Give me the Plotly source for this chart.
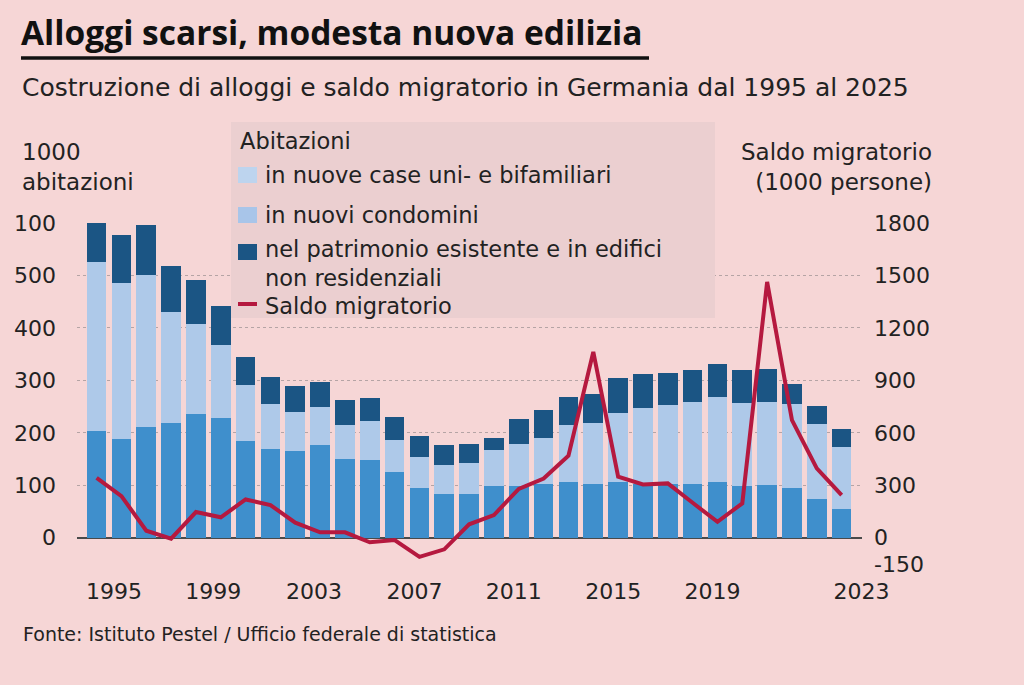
import plotly.graph_objects as go

# --- dati (1000 abitazioni / 1000 persone) ---
anni = list(range(1995, 2026))

case_uni_bifamiliari = [204, 189, 211, 219, 236, 229, 185, 170, 165, 177, 150, 149, 125, 95, 83,
                        84, 98, 99, 102, 106, 102, 107, 102, 102, 102, 107, 98, 100, 94, 73, 55]
condomini_top = [526, 485, 500, 430, 408, 368, 291, 255, 239, 249, 215, 222, 187, 154, 138,
                 142, 168, 178, 190, 215, 218, 237, 248, 253, 258, 268, 256, 259, 255, 217, 173]
totale = [603, 578, 596, 518, 491, 442, 345, 307, 290, 296, 262, 267, 230, 194, 177,
          179, 190, 227, 243, 269, 275, 305, 312, 314, 319, 332, 319, 321, 294, 251, 208]

saldo_migratorio = [343, 238, 40, -5, 147, 117, 219, 187, 86, 31, 31, -26, -13, -109, -66,
                    77, 130, 280, 339, 469, 1063, 349, 305, 311, 200, 91, 197, 1463, 673, 397, 244]

condomini = [c - b for c, b in zip(condomini_top, case_uni_bifamiliari)]
patrimonio_esistente = [t - c for t, c in zip(totale, condomini_top)]

tick_anni = ["1995", "1999", "2003", "2007", "2011", "2015", "2019", "2023"]
tick_pos = [1995.7, 1999.7, 2003.75, 2007.8, 2011.8, 2015.8, 2019.8, 2025.8]

sx_tick = [-50, 0, 100, 200, 300, 400, 500, 600]
sx_text = ["", "0", "100", "200", "300", "400", "500", "100"]
dx_tick = [-150, 0, 300, 600, 900, 1200, 1500, 1800]
dx_text = ["-150", "0", "300", "600", "900", "1200", "1500", "1800"]

# --- colori ---
BG = "#f6d6d6"
LEG_BG = "#ebcfd0"
C_BASSO = "#3f8fcc"
C_MEDIO = "#aec9e9"
C_ALTO = "#1b5584"
C_LINEA = "#b5193f"
FONT = "DejaVu Sans"

W, H = 1024, 685
L, R, T, B = 77, 862, 223, 564


def px(x):
    return (x - L) / (R - L)


def py(y):
    return (B - y) / (B - T)


def testo(t, x, y, size, anchor="left", family=FONT, color="#222"):
    return dict(text=t, xref="paper", yref="paper", x=px(x), y=py(y), xanchor=anchor, yanchor="middle",
                align=anchor, showarrow=False, font=dict(family=family, size=size, color=color))


fig = go.Figure()

fig.add_trace(go.Bar(x=anni, y=case_uni_bifamiliari, marker=dict(color=C_BASSO, line_width=0),
                     name="in nuove case uni- e bifamiliari"))
fig.add_trace(go.Bar(x=anni, y=condomini, marker=dict(color=C_MEDIO, line_width=0),
                     name="in nuovi condomini"))
fig.add_trace(go.Bar(x=anni, y=patrimonio_esistente, marker=dict(color=C_ALTO, line_width=0),
                     name="nel patrimonio esistente e in edifici non residenziali"))
fig.add_trace(go.Scatter(x=anni, y=saldo_migratorio, yaxis="y2", mode="lines",
                         line=dict(color=C_LINEA, width=4), name="Saldo migratorio"))

shapes = []
annotations = []

# titolo, sottotitolo, fonte
annotations.append(testo("<b>Alloggi scarsi, modesta nuova edilizia</b>", 19, 32, 33.5,
                         family="Open Sans", color="#111"))
shapes.append(dict(type="line", xref="paper", yref="paper", x0=px(21), x1=px(649), y0=py(58), y1=py(58),
                   line=dict(color="#111", width=3.5)))
annotations.append(testo("Costruzione di alloggi e saldo migratorio in Germania dal 1995 al 2025", 20, 88, 25))
annotations.append(testo("Fonte: Istituto Pestel / Ufficio federale di statistica", 21, 634, 19))

# titoli assi
annotations.append(testo("1000<br>abitazioni", 20, 167, 23))
annotations.append(testo("Saldo migratorio<br>(1000 persone)", 934, 167, 23, anchor="right"))

# legenda
shapes.append(dict(type="rect", xref="paper", yref="paper", x0=px(231), x1=px(715), y0=py(122), y1=py(318),
                   fillcolor=LEG_BG, line_width=0, layer="above"))
legenda = [
    ("Abitazioni", None, 141),
    ("in nuove case uni- e bifamiliari", "#bdd4ee", 175),
    ("in nuovi condomini", "#a8c5e9", 215),
    ("nel patrimonio esistente e in edifici<br>non residenziali", C_ALTO, 263),
    ("Saldo migratorio", "linea", 306),
]
for voce, col, yc in legenda:
    xt = 238 if col is None else 263
    annotations.append(testo(voce, xt, yc, 22.5))
    if col == "linea":
        shapes.append(dict(type="line", xref="paper", yref="paper", x0=px(238), x1=px(257),
                           y0=py(304), y1=py(304), line=dict(color=C_LINEA, width=4), layer="above"))
    elif col is not None:
        yc_sw = 252 if yc == 263 else yc
        shapes.append(dict(type="rect", xref="paper", yref="paper", x0=px(238), x1=px(257),
                           y0=py(yc_sw - 8), y1=py(yc_sw + 8), fillcolor=col, line_width=0, layer="above"))

fig.update_layout(
    width=W, height=H,
    margin=dict(l=L, r=W - R, t=T, b=H - B),
    paper_bgcolor=BG, plot_bgcolor=BG,
    barmode="stack", bargap=0.21,
    showlegend=False,
    font=dict(family=FONT, color="#222"),
    xaxis=dict(range=[1994.21, 2025.82], tickvals=tick_pos, ticktext=tick_anni, showgrid=False,
               zeroline=False, showline=False, ticks="", tickfont=dict(size=22), ticklabelstandoff=12),
    yaxis=dict(range=[-50, 600], tickvals=sx_tick, ticktext=sx_text, showgrid=True, gridcolor="#b5a4a5",
               griddash="dot", gridwidth=1, zeroline=True, zerolinecolor="#4a4a4a", zerolinewidth=1.5,
               ticks="", tickfont=dict(size=22), ticklabelstandoff=20),
    yaxis2=dict(range=[-150, 1800], tickvals=dx_tick, ticktext=dx_text, overlaying="y", side="right",
                showgrid=False, zeroline=False, ticks="", tickfont=dict(size=22), ticklabelstandoff=11),
    shapes=shapes,
    annotations=annotations,
)

fig.write_html("out.html", config={"displayModeBar": False},
               post_script="document.body.style.margin='0';")
